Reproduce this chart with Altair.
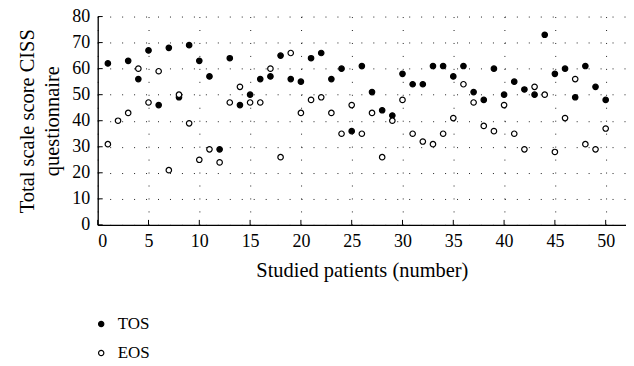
import altair as alt
import pandas as pd

patients = list(range(1, 51))
tos = [62, None, 63, 56, 67, 46, 68, 49, 69, 63,
       57, 29, 64, 46, 50, 56, 57, 65, 56, 55,
       64, 66, 56, 60, 36, 61, 51, 44, 42, 58,
       54, 54, 61, 61, 57, 61, 51, 48, 60, 50,
       55, 52, 50, 73, 58, 60, 49, 61, 53, 48]
eos = [31, 40, 43, 60, 47, 59, 21, 50, 39, 25,
       29, 24, 47, 53, 47, 47, 60, 26, 66, 43,
       48, 49, 43, 35, 46, 35, 43, 26, 40, 48,
       35, 32, 31, 35, 41, 54, 47, 38, 36, 46,
       35, 29, 53, 50, 28, 41, 56, 31, 29, 37]
series_names = ["TOS", "EOS"]
x_ticks = [0, 5, 10, 15, 20, 25, 30, 35, 40, 45, 50]
y_ticks = [0, 10, 20, 30, 40, 50, 60, 70, 80]

rows = []
for p, t, e in zip(patients, tos, eos):
    if t is not None:
        rows.append({"patient": p, "score": t, "series": "TOS"})
    if e is not None:
        rows.append({"patient": p, "score": e, "series": "EOS"})
df = pd.DataFrame(rows)

FONT = "'Liberation Serif', 'DejaVu Serif', serif"
W, H = 530, 209
xscale = alt.Scale(domain=[0, 52], nice=False, zero=False)
yscale = alt.Scale(domain=[0, 80], nice=False)

xaxis = alt.Axis(values=x_ticks, title="Studied patients (number)",
                 tickSize=0, labelPadding=8, titlePadding=10,
                 gridDash=[1, 12], gridColor="#222", gridWidth=1)
yaxis = alt.Axis(values=y_ticks, title=["Total scale score CISS", "questionnaire"],
                 tickSize=0, labelPadding=8, titlePadding=9,
                 gridDash=[1, 11], gridColor="#222", gridWidth=1)

points = alt.Chart(df).mark_point(
    shape="circle", filled=False, size=30, stroke="black", strokeWidth=1.2, opacity=1
).encode(
    x=alt.X("patient:Q", scale=xscale, axis=xaxis),
    y=alt.Y("score:Q", scale=yscale, axis=yaxis),
    fill=alt.Fill("series:N", scale=alt.Scale(domain=series_names, range=["black", "white"]),
                  legend=alt.Legend(title=None, orient="none", legendX=-5, legendY=300,
                                    symbolType="circle", symbolSize=28,
                                    symbolStrokeColor="black", symbolStrokeWidth=1.2,
                                    labelFont=FONT, labelFontSize=17, labelColor="black",
                                    labelOffset=8, rowPadding=11, padding=0)),
)

xt = alt.Chart(pd.DataFrame({"patient": x_ticks})).mark_rule(color="black", strokeWidth=1).encode(
    x=alt.X("patient:Q", scale=xscale, axis=xaxis), y=alt.value(H), y2=alt.value(H - 5))
yt = alt.Chart(pd.DataFrame({"score": y_ticks})).mark_rule(color="black", strokeWidth=1).encode(
    y=alt.Y("score:Q", scale=yscale, axis=yaxis), x=alt.value(0), x2=alt.value(5))

chart = alt.layer(points, xt, yt).properties(
    width=W, height=H, autosize="none",
    padding={"left": 90, "top": 8, "right": 0, "bottom": 140},
).configure_view(stroke=None).configure_axis(
    labelFont=FONT, labelFontSize=18, labelColor="black",
    titleFont=FONT, titleFontSize=20.5, titleFontWeight="normal", titleColor="black",
    domainColor="black", domainWidth=1.3, titleLineHeight=25,
).configure_legend(labelFont=FONT)

chart.save("out.html", embed_options={"renderer": "svg", "actions": False})
